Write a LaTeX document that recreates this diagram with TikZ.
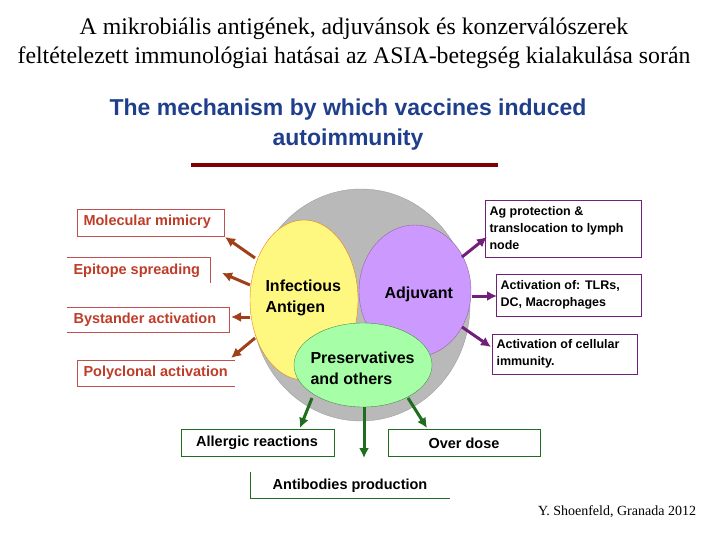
\documentclass[tikz,border=0pt]{standalone}
\usepackage{fontspec}
\setmainfont{Liberation Serif}
\newfontfamily\arialfont{Liberation Sans}
\usepackage{tikz}
\usetikzlibrary{arrows.meta}
\definecolor{boxred}{RGB}{192,80,77}
\definecolor{textred}{RGB}{190,60,40}
\definecolor{arrowbrown}{RGB}{160,64,26}
\definecolor{purp}{RGB}{112,32,120}
\definecolor{lilac}{RGB}{204,153,255}
\definecolor{darkgreen}{RGB}{30,110,30}
\definecolor{headblue}{RGB}{31,63,140}
\tikzset{
  lbl/.style={font=\arialfont\bfseries\fontsize{14.5}{17}\selectfont, anchor=west},
  rlbl/.style={font=\arialfont\bfseries\fontsize{12.5}{17}\selectfont, anchor=west, align=left},
  redarr/.style={-{Latex[length=10pt,width=10pt]}, line width=3pt, color=arrowbrown},
  purarr/.style={-{Latex[length=10pt,width=10pt]}, line width=3pt, color=purp},
  grnarr/.style={-{Latex[length=10pt,width=10pt]}, line width=3pt, color=darkgreen}
}
\begin{document}
\begin{tikzpicture}[x=1pt,y=-1pt]
\useasboundingbox (0,0) rectangle (720,540);

% title
\node[font=\fontsize{23.8}{29}\selectfont, align=center] (title) at (354,43)
  {A mikrobiális antigének, adjuvánsok és konzerválószerek\\feltételezett immunológiai hatásai az ASIA-betegség kialakulása során};
\node[font=\arialfont\bfseries\fontsize{23}{30}\selectfont, color=headblue, align=center] (head) at (348,125)
  {The mechanism by which vaccines induced\\autoimmunity};
\draw[line width=4pt, color=red!50!black] (191,165)--(498,165);

% circles
\draw[fill=gray!55, draw=gray!75] (361,305) ellipse (109 and 116);
\draw[fill=yellow!50, draw=orange!70!brown] (304,300) ellipse (54 and 80);
\draw[fill=lilac, draw=purp!70] (415,291) ellipse (56 and 66);
\draw[fill=green!35!white, draw=darkgreen!80] (363,365) ellipse (69 and 42);

\node[lbl, align=left, font=\arialfont\bfseries\fontsize{16}{21}\selectfont] (infect) at (262,298) {Infectious\\Antigen};
\node[lbl, font=\arialfont\bfseries\fontsize{16}{19}\selectfont] (adj) at (381,294) {Adjuvant};
\node[lbl, align=left, font=\arialfont\bfseries\fontsize{16}{21}\selectfont] (pres) at (307,368) {Preservatives\\and others};

% left boxes
\draw[boxred] (77,209) rectangle (224,236);
\node[lbl, color=textred] (mimic) at (80,222) {Molecular mimicry};
\draw[boxred] (67,257)--(210,257)--(210,283);
\node[lbl, color=textred] (epi) at (70,271) {Epitope spreading};
\draw[boxred] (67,307)--(229,307)--(229,332)--(67,332);
\node[lbl, color=textred] (bys) at (70,320) {Bystander activation};
\draw[boxred] (235,360)--(77,360)--(77,386)--(235,386);
\node[lbl, color=textred] (poly) at (80,373) {Polyclonal activation};

\draw[redarr] (255,258)--(225,237);
\draw[redarr] (250,285)--(222,273);
\draw[redarr] (250,317)--(231,317);
\draw[redarr] (255,338)--(231,358);

% right boxes
\draw[purp] (485,200) rectangle (641,257);
\node[rlbl] (agp) at (486,228) {Ag protection \&\\translocation to lymph\\node};
\draw[purp] (496,274) rectangle (641,316);
\node[rlbl] (tlr) at (497,295) {Activation of: TLRs,\\DC, Macrophages};
\draw[purp] (492,334) rectangle (637,374);
\node[rlbl] (cell) at (493,354) {Activation of cellular\\immunity.};

\draw[purarr] (462,257)--(487,237);
\draw[purarr] (472,296)--(497,296);
\draw[purarr] (462,327)--(491,347);

% bottom boxes
\draw[darkgreen] (181,429) rectangle (334,456);
\node[lbl, anchor=center] (allerg) at (257,443) {Allergic reactions};
\draw[darkgreen] (388,429) rectangle (540,456);
\node[lbl, anchor=center] (over) at (464,443) {Over dose};
\draw[darkgreen] (250,472)--(250,498)--(450,498);
\node[lbl, anchor=center] (anti) at (350,486) {Antibodies production};

\draw[grnarr] (312,398)--(300,428);
\draw[grnarr] (364,407)--(364,458);
\draw[grnarr] (408,398)--(427,428);

\node[font=\fontsize{14}{16}\selectfont] (cite) at (617,512) {Y. Shoenfeld, Granada 2012};
\end{tikzpicture}
\end{document}
